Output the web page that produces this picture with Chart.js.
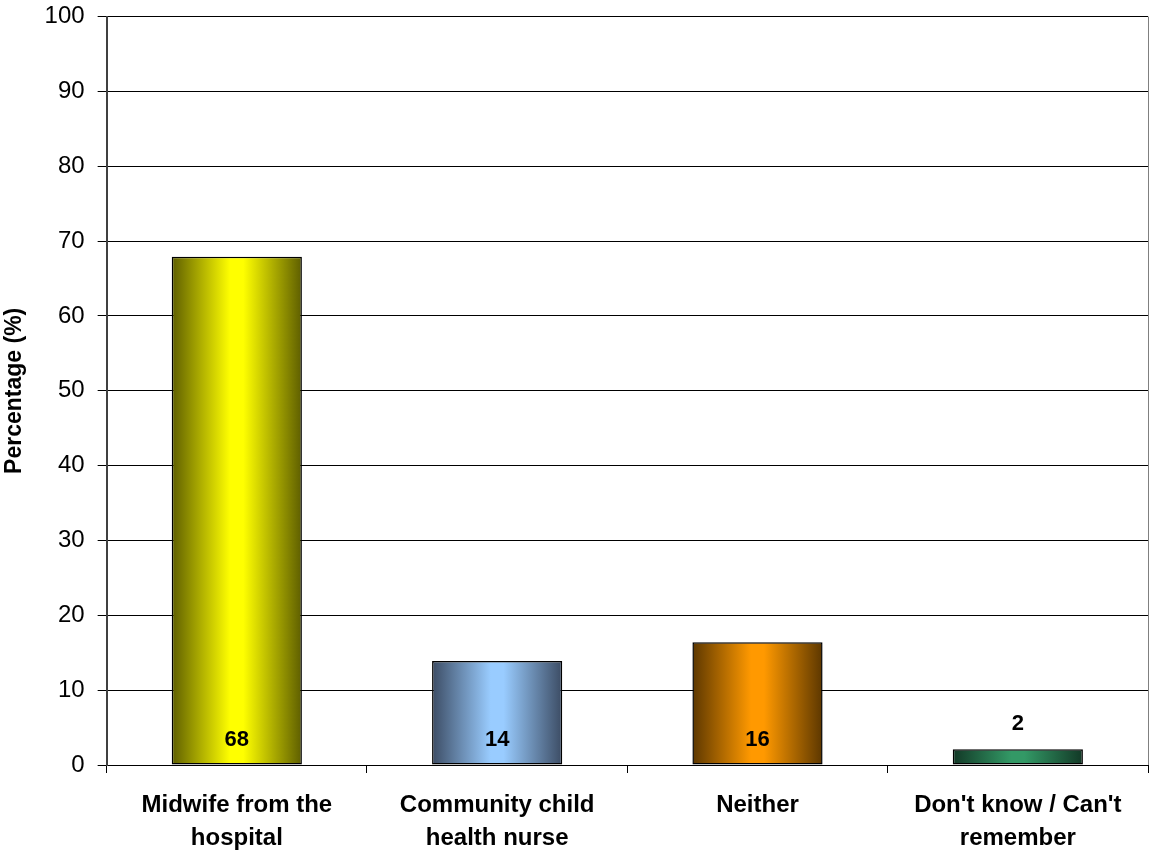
<!DOCTYPE html>
<html>
<head>
<meta charset="utf-8">
<script src="https://cdn.jsdelivr.net/npm/chart.js@4"></script>
<style>
html,body{margin:0;padding:0;background:#fff;}
#wrap{width:1150px;height:855px;position:relative;}
</style>
</head>
<body>
<div id="wrap"><canvas id="c" width="1150" height="855"></canvas></div>
<script>
const categories = [["Midwife from the","hospital"],["Community child","health nurse"],["Neither"],["Don't know / Can't","remember"]];
const values = [67.9, 13.9, 16.4, 2.1];
const valueLabels = ["68","14","16","2"];
const edgeColors = ["#5e5e00","#3c4c64","#5c3700","#123826"];
const centerColors = ["#ffff00","#99ccff","#ff9900","#339966"];
const yTicks = [0,10,20,30,40,50,60,70,80,90,100];

const gradientPlugin = {
  id:'grad',
  beforeDatasetsDraw(chart){
    const ctx = chart.ctx;
    const meta = chart.getDatasetMeta(0);
    meta.data.forEach((bar,i)=>{
      const x0 = bar.x - bar.width/2, x1 = bar.x + bar.width/2;
      const g = ctx.createLinearGradient(x0,0,x1,0);
      g.addColorStop(0, edgeColors[i]);
      g.addColorStop(0.45, centerColors[i]);
      g.addColorStop(0.55, centerColors[i]);
      g.addColorStop(1, edgeColors[i]);
      bar.options.backgroundColor = g;
    });
  },
  afterDatasetsDraw(chart){
    const ctx = chart.ctx;
    const meta = chart.getDatasetMeta(0);
    ctx.save();
    ctx.font = 'bold 22px "Liberation Sans", Arial, sans-serif';
    ctx.fillStyle = '#000';
    ctx.textAlign = 'center';
    ctx.textBaseline = 'middle';
    meta.data.forEach((bar,i)=>{
      const h = bar.base - bar.y;
      let y = h > 40 ? bar.base - 25 : bar.y - 25;
      ctx.fillText(valueLabels[i], bar.x, y);
    });
    const a = chart.chartArea;
    ctx.strokeStyle = '#808080';
    ctx.lineWidth = 1;
    ctx.beginPath();
    ctx.moveTo(a.right+0.5, a.top);
    ctx.lineTo(a.right+0.5, a.bottom);
    ctx.stroke();
    ctx.restore();
  }
};

new Chart(document.getElementById('c'), {
  type:'bar',
  data:{
    labels: categories,
    datasets:[{
      data: values,
      backgroundColor: centerColors,
      borderColor:'#000',
      borderWidth:1.5,
      borderSkipped:false,
      barPercentage:0.5,
      categoryPercentage:1.0
    }]
  },
  options:{
    responsive:false,
    animation:false,
    devicePixelRatio:1,
    layout:{padding:{top:10,right:2,left:0,bottom:-16}},
    plugins:{legend:{display:false},tooltip:{enabled:false}},
    scales:{
      x:{
        grid:{display:true, drawOnChartArea:false, offset:true, color:'#000', tickLength:8, tickWidth:1},
        border:{display:true, color:'#000', width:1},
        ticks:{
          color:'#000',
          font:{family:'"Liberation Sans", Arial, sans-serif', size:24, weight:'bold', lineHeight:1.375},
          padding:16,
          maxRotation:0, autoSkip:false
        }
      },
      y:{
        min:0, max:100,
        afterBuildTicks(axis){ axis.ticks = yTicks.map(v=>({value:v})); },
        grid:{color:'#000', lineWidth:1, tickLength:9, drawTicks:true},
        border:{display:true, color:'#404040', width:2},
        ticks:{
          color:'#000',
          font:{family:'"Liberation Sans", Arial, sans-serif', size:24, lineHeight:0.3},
          padding:13
        },
        title:{
          display:true, text:'Percentage (%)', color:'#000',
          font:{family:'"Liberation Sans", Arial, sans-serif', size:23, weight:'bold'},
          padding:{top:1,bottom:3}
        }
      }
    }
  },
  plugins:[gradientPlugin]
});
</script>
</body>
</html>
